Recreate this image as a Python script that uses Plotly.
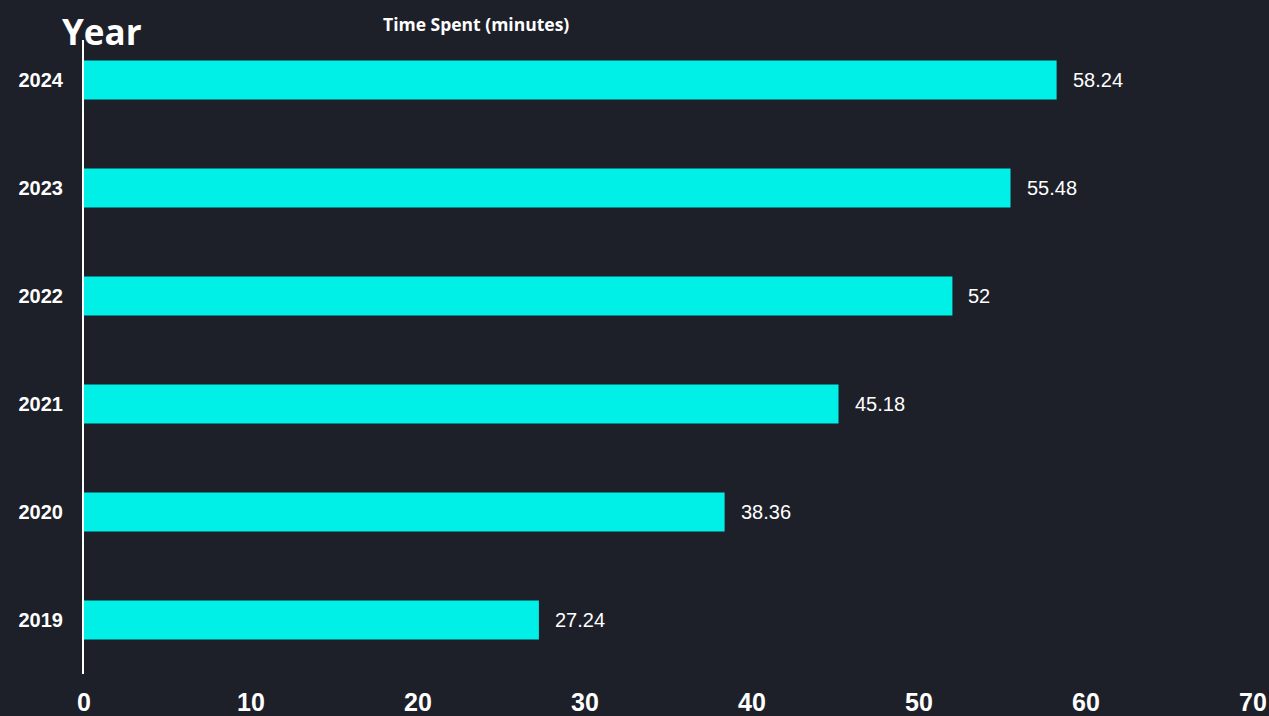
import plotly.graph_objects as go

# Average daily time spent, by year
years = ["2019", "2020", "2021", "2022", "2023", "2024"]
minutes = [27.24, 38.36, 45.18, 52, 55.48, 58.24]
value_labels = ["27.24", "38.36", "45.18", "52", "55.48", "58.24"]
x_ticks = [0, 10, 20, 30, 40, 50, 60, 70]

BG = "#1e2029"
BAR = "#00f0e8"

W, H = 1269, 716
M_L, M_R, M_T, M_B = 84, 16, 40, 42
PW = W - M_L - M_R
PH = H - M_T - M_B

fig = go.Figure()
fig.add_trace(go.Bar(
    y=years,
    x=minutes,
    orientation="h",
    marker=dict(color=BAR, line=dict(width=0)),
    width=0.36,
    hoverinfo="x+y",
))

# value labels just past the end of each bar
for i, (v, lab) in enumerate(zip(minutes, value_labels)):
    fig.add_annotation(
        xref="x", yref="y",
        x=v, y=i, text=lab, showarrow=False,
        xanchor="left", yanchor="middle", xshift=14,
        font=dict(family="Liberation Sans, Arial, sans-serif", size=20, color="#ffffff"),
    )

# titles
fig.add_annotation(
    xref="paper", yref="paper",
    x=(60 - M_L) / PW, y=1 + (M_T - 31) / PH,
    text="<b>Year</b>", showarrow=False, xanchor="left", yanchor="middle",
    font=dict(family="Open Sans, sans-serif", size=35, color="#ffffff"),
)
fig.add_annotation(
    xref="paper", yref="paper",
    x=(476 - M_L) / PW, y=1 + (M_T - 24) / PH,
    text="<b>Time Spent (minutes)</b>", showarrow=False, xanchor="center", yanchor="middle",
    font=dict(family="Open Sans, sans-serif", size=17.5, color="#ffffff"),
)

fig.update_layout(
    width=W, height=H,
    margin=dict(l=M_L, r=M_R, t=M_T, b=M_B, pad=0, autoexpand=False),
    paper_bgcolor=BG, plot_bgcolor=BG,
    showlegend=False,
    bargap=0.64,
)
fig.update_xaxes(
    range=[0, 70], tickvals=x_ticks, ticktext=[f"<b>{t}</b>" for t in x_ticks],
    showgrid=False, zeroline=False, showline=False, automargin=False,
    ticks="outside", ticklen=6, tickcolor="rgba(0,0,0,0)",
    tickfont=dict(family="Liberation Sans, Arial, sans-serif", size=25, color="#ffffff"),
)
fig.update_yaxes(
    type="category", categoryorder="array", categoryarray=years,
    range=[-0.5, 5.37], automargin=False,
    ticktext=[f"<b>{y}</b>" for y in years], tickvals=years,
    showgrid=False, zeroline=False,
    showline=True, linecolor="#ffffff", linewidth=2,
    ticks="outside", ticklen=15, tickcolor="rgba(0,0,0,0)",
    tickfont=dict(family="Liberation Sans, Arial, sans-serif", size=20, color="#ffffff"),
)

fig.write_html("out.html")
